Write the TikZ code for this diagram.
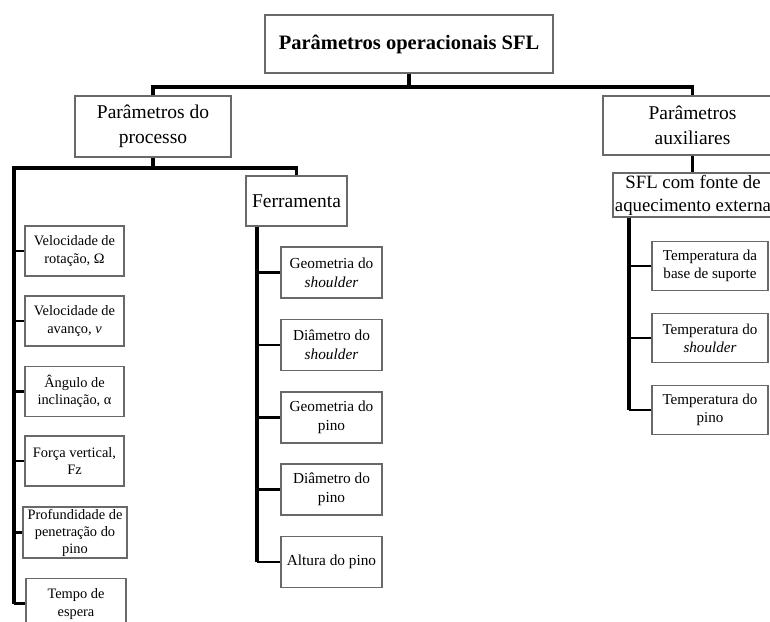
\documentclass[tikz,border=0pt]{standalone}
\usepackage{fontspec}
\setmainfont{Liberation Serif}
\definecolor{boxgray}{RGB}{105,105,105}
\begin{document}
\begin{tikzpicture}[x=1pt,y=-1pt,
  box/.style={draw=boxgray, line width=1.4pt, fill=white, align=center, inner sep=0pt},
  lvl0/.style={box, font=\fontsize{20.5}{24}\selectfont\bfseries},
  lvl1/.style={box, font=\fontsize{19.5}{25}\selectfont},
  lvl2/.style={box, font=\fontsize{18.8}{23}\selectfont},
  leafm/.style={box, minimum width=101pt, minimum height=51pt, font=\fontsize{15.3}{19}\selectfont},
  leafr/.style={box, minimum width=116pt, minimum height=49pt, font=\fontsize{15.1}{18}\selectfont},
  leafl/.style={box, minimum width=99pt, minimum height=50pt, font=\fontsize{14.4}{17.5}\selectfont},
  bus/.style={line width=3.8pt},
  conn/.style={line width=2.2pt}]
\fill[white] (0,0) rectangle (770,621);
\useasboundingbox (0,0) rectangle (770,621);

% level 0
\node[lvl0, minimum width=288pt, minimum height=58pt] (top) at (409,44) {Parâmetros operacionais SFL};
% level 1
\node[lvl1, minimum width=156pt, minimum height=61pt] (proc) at (153,126.5) {Parâmetros do\\processo};
\node[lvl1, minimum width=179pt, minimum height=59pt] (aux) at (692.5,125.5) {Parâmetros\\auxiliares};
% level 2
\node[lvl1, minimum width=101pt, minimum height=50pt] (ferr) at (296.5,201) {Ferramenta};
\node[lvl2, minimum width=160pt, minimum height=44pt] (sfl) at (693,195) {SFL com fonte de\\aquecimento externa};

% left leaves
\node[leafl] (l1) at (74.5,251) {Velocidade de\\rotação, Ω};
\node[leafl] (l2) at (74.5,321) {Velocidade de\\avanço, \textit{v}};
\node[leafl] (l3) at (74.5,391.5) {Ângulo de\\inclinação, α};
\node[leafl] (l4) at (74.5,461) {Força vertical,\\Fz};
\node[leafl, minimum width=104pt, minimum height=51pt, font=\fontsize{14.4}{17}\selectfont] (l5) at (75,532.5) {Profundidade de\\penetração do\\pino};
\node[leafl, minimum width=100pt, minimum height=51pt, anchor=north] (l6) at (76,578) {Tempo de\\espera};

% middle leaves
\node[leafm] (m1) at (331.5,272.5) {Geometria do\\\textit{shoulder}};
\node[leafm] (m2) at (331.5,345) {Diâmetro do\\\textit{shoulder}};
\node[leafm] (m3) at (331.5,417.5) {Geometria do\\pino};
\node[leafm] (m4) at (331.5,489.5) {Diâmetro do\\pino};
\node[leafm] (m5) at (331.5,562) {Altura do pino};

% right leaves
\node[leafr] (r1) at (710,266) {Temperatura da\\base de suporte};
\node[leafr] (r2) at (710,338) {Temperatura do\\\textit{shoulder}};
\node[leafr] (r3) at (710,410) {Temperatura do\\pino};

% junction coordinates
\coordinate (j1) at (409,87);
\coordinate (j2) at (153,168);
\coordinate (lv) at (14,0);
\coordinate (mv) at (257,0);
\coordinate (rv) at (629,0);

% buses
\draw[bus] (top.south) -- (j1);
\draw[bus] (proc.north) |- (j1) -| (aux.north);
\draw[bus] (proc.south) -- (j2);
\draw[bus] (ferr.north) |- (j2) -| (lv |- l6.west);
\draw[bus] (aux.south) -- (aux.south |- sfl.north);
\draw[bus] (mv |- ferr.south) -- (mv |- m5.west);
\draw[bus] (rv |- sfl.south) -- (rv |- r3.west);

% left connectors
\foreach \n in {l1,l2,l3,l4,l5}
  \draw[conn] (lv |- \n.west) -- (\n.west);
\draw[conn] (lv |- 0,603.5) -- (l6.west |- 0,603.5);
% middle connectors
\foreach \n in {m1,m2,m3,m4,m5}
  \draw[conn] (mv |- \n.west) -- (\n.west);
% right connectors
\foreach \n in {r1,r2,r3}
  \draw[conn] (rv |- \n.west) -- (\n.west);
\end{tikzpicture}
\end{document}
